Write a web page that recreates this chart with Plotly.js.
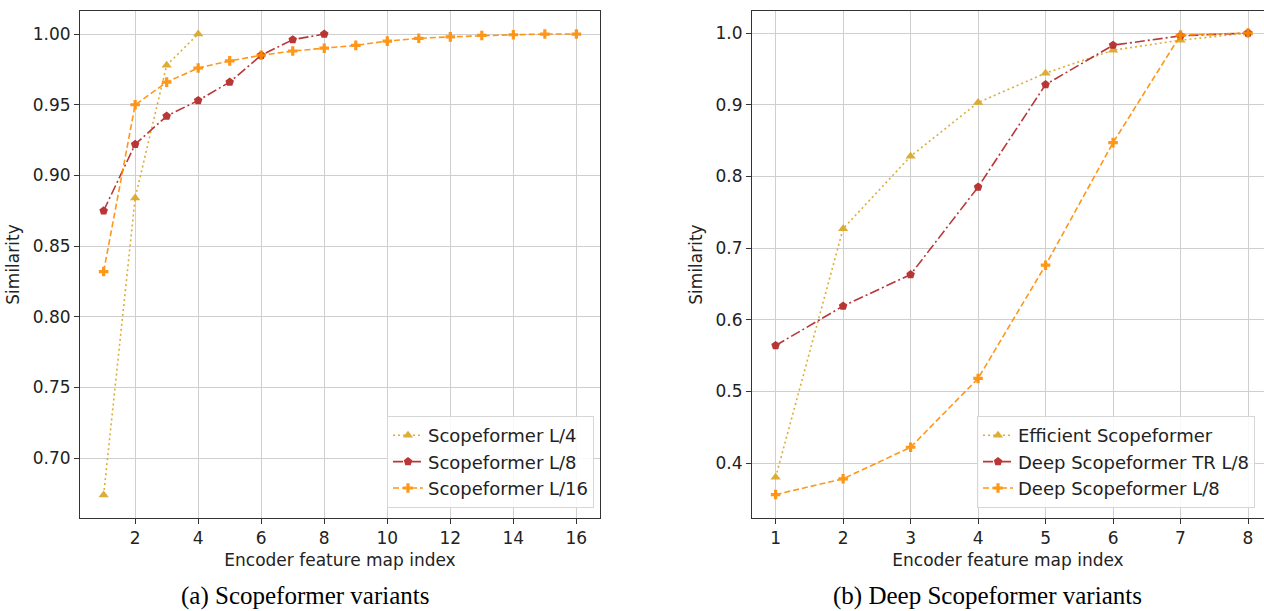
<!DOCTYPE html>
<html>
<head>
<meta charset="utf-8">
<script src="https://cdn.plot.ly/plotly-3.0.1.min.js"></script>
<style>html,body{margin:0;padding:0;background:#fff;}#chart{width:1264px;height:611px;}</style>
</head>
<body>
<div id="chart"></div>
<script>
// ---- Data ----
const xLeft16 = [1,2,3,4,5,6,7,8,9,10,11,12,13,14,15,16];
const xLeft8 = [1,2,3,4,5,6,7,8];
const xLeft4 = [1,2,3,4];
const scopeL4 = [0.674, 0.884, 0.978, 1.000];
const scopeL8 = [0.875, 0.922, 0.942, 0.953, 0.966, 0.985, 0.996, 1.000];
const scopeL16 = [0.832, 0.950, 0.966, 0.976, 0.981, 0.985, 0.988, 0.990, 0.992, 0.995, 0.997, 0.998, 0.999, 0.9995, 1.000, 1.000];

const xRight = [1,2,3,4,5,6,7,8];
const efficient = [0.380, 0.727, 0.828, 0.903, 0.944, 0.976, 0.990, 1.000];
const deepTR = [0.564, 0.619, 0.663, 0.785, 0.928, 0.983, 0.996, 1.000];
const deepL8 = [0.356, 0.378, 0.422, 0.518, 0.676, 0.847, 0.997, 1.000];

const namesLeft = ['Scopeformer L/4', 'Scopeformer L/8', 'Scopeformer L/16'];
const namesRight = ['Efficient Scopeformer', 'Deep Scopeformer TR L/8', 'Deep Scopeformer L/8'];
const leftYTicks = [0.70, 0.75, 0.80, 0.85, 0.90, 0.95, 1.00];
const leftXTicks = [2,4,6,8,10,12,14,16];
const rightYTicks = [0.4, 0.5, 0.6, 0.7, 0.8, 0.9, 1.0];
const rightXTicks = [1,2,3,4,5,6,7,8];
const captions = ['(a) Scopeformer variants', '(b) Deep Scopeformer variants'];
const xTitle = 'Encoder feature map index';
const yTitle = 'Similarity';

// ---- Styles ----
const GOLD = '#DAA520', RED = '#B22222', ORANGE = '#FF8C00';
const DOT = '2px,3px', DASHDOT = '10px,3px,2px,3px', DASH = '6px,3px';

function tr(x, y, name, color, dash, symbol, size, xa, ya, leg) {
  return {
    x: x, y: y, name: name, type: 'scatter', mode: 'lines+markers',
    xaxis: xa, yaxis: ya, legend: leg, opacity: 0.9,
    line: {color: color, width: 1.6, dash: dash},
    marker: {color: color, symbol: symbol, size: size, line: {width: 0}}
  };
}

const traces = [
  tr(xLeft4, scopeL4, namesLeft[0], GOLD, DOT, 'triangle-up', 9, 'x', 'y', 'legend'),
  tr(xLeft8, scopeL8, namesLeft[1], RED, DASHDOT, 'pentagon', 9, 'x', 'y', 'legend'),
  tr(xLeft16, scopeL16, namesLeft[2], ORANGE, DASH, 'cross', 8, 'x', 'y', 'legend'),
  tr(xRight, efficient, namesRight[0], GOLD, DOT, 'triangle-up', 9, 'x2', 'y2', 'legend2'),
  tr(xRight, deepTR, namesRight[1], RED, DASHDOT, 'pentagon', 9, 'x2', 'y2', 'legend2'),
  tr(xRight, deepL8, namesRight[2], ORANGE, DASH, 'cross', 8, 'x2', 'y2', 'legend2')
];

const FONT = 'DejaVu Sans, sans-serif';
const axisBase = {
  showgrid: true, gridcolor: '#cfcfcf', gridwidth: 1,
  showline: true, linecolor: '#333', linewidth: 1, mirror: true,
  ticks: 'outside', ticklen: 5, tickwidth: 1, tickcolor: '#333',
  tickfont: {family: FONT, size: 17, color: '#222'},
  zeroline: false, fixedrange: true
};
const W = 1264, H = 611;
const yDom = [(H - 518) / H, (H - 11) / H];

const layout = {
  width: W, height: H,
  margin: {l: 0, r: 0, t: 0, b: 0},
  paper_bgcolor: '#fff', plot_bgcolor: '#fff',
  font: {family: FONT, color: '#222'},
  xaxis: Object.assign({}, axisBase, {
    domain: [80 / W, 600 / W], range: [0.25, 16.75], tickvals: leftXTicks,
    title: {text: xTitle, font: {family: FONT, size: 17, color: '#222'}, standoff: 6},
    anchor: 'y'
  }),
  yaxis: Object.assign({}, axisBase, {
    domain: yDom, range: [0.6577, 1.0163], tickvals: leftYTicks, tickformat: '.2f',
    title: {text: yTitle, font: {family: FONT, size: 17, color: '#222'}, standoff: 8},
    anchor: 'x'
  }),
  xaxis2: Object.assign({}, axisBase, {
    domain: [752 / W, 1], range: [0.65, 8.237], tickvals: rightXTicks,
    title: {text: xTitle, font: {family: FONT, size: 17, color: '#222'}, standoff: 6},
    anchor: 'y2'
  }),
  yaxis2: Object.assign({}, axisBase, {
    domain: yDom, range: [0.3233, 1.0307], tickvals: rightYTicks, tickformat: '.1f',
    title: {text: yTitle, font: {family: FONT, size: 17, color: '#222'}, standoff: 8},
    anchor: 'x2'
  }),
  legend: {
    x: 594 / W, xanchor: 'right', y: (H - 508) / H, yanchor: 'bottom',
    bgcolor: 'rgba(255,255,255,0.85)', bordercolor: '#d6d6d6', borderwidth: 1,
    font: {family: FONT, size: 18, color: '#222'}
  },
  legend2: {
    x: 977 / W, xanchor: 'left', y: (H - 508) / H, yanchor: 'bottom',
    bgcolor: 'rgba(255,255,255,0.85)', bordercolor: '#d6d6d6', borderwidth: 1,
    font: {family: FONT, size: 18, color: '#222'}
  },
  showlegend: true,
  annotations: [
    {text: captions[0], xref: 'paper', yref: 'paper', x: 305 / W, y: (H - 580) / H,
     xanchor: 'center', yanchor: 'top', showarrow: false,
     font: {family: 'Liberation Serif, Times New Roman, serif', size: 25, color: '#000'}},
    {text: captions[1], xref: 'paper', yref: 'paper', x: 988 / W, y: (H - 580) / H,
     xanchor: 'center', yanchor: 'top', showarrow: false,
     font: {family: 'Liberation Serif, Times New Roman, serif', size: 25, color: '#000'}}
  ]
};

Plotly.newPlot('chart', traces, layout, {displayModeBar: false, staticPlot: true});
</script>
</body>
</html>
